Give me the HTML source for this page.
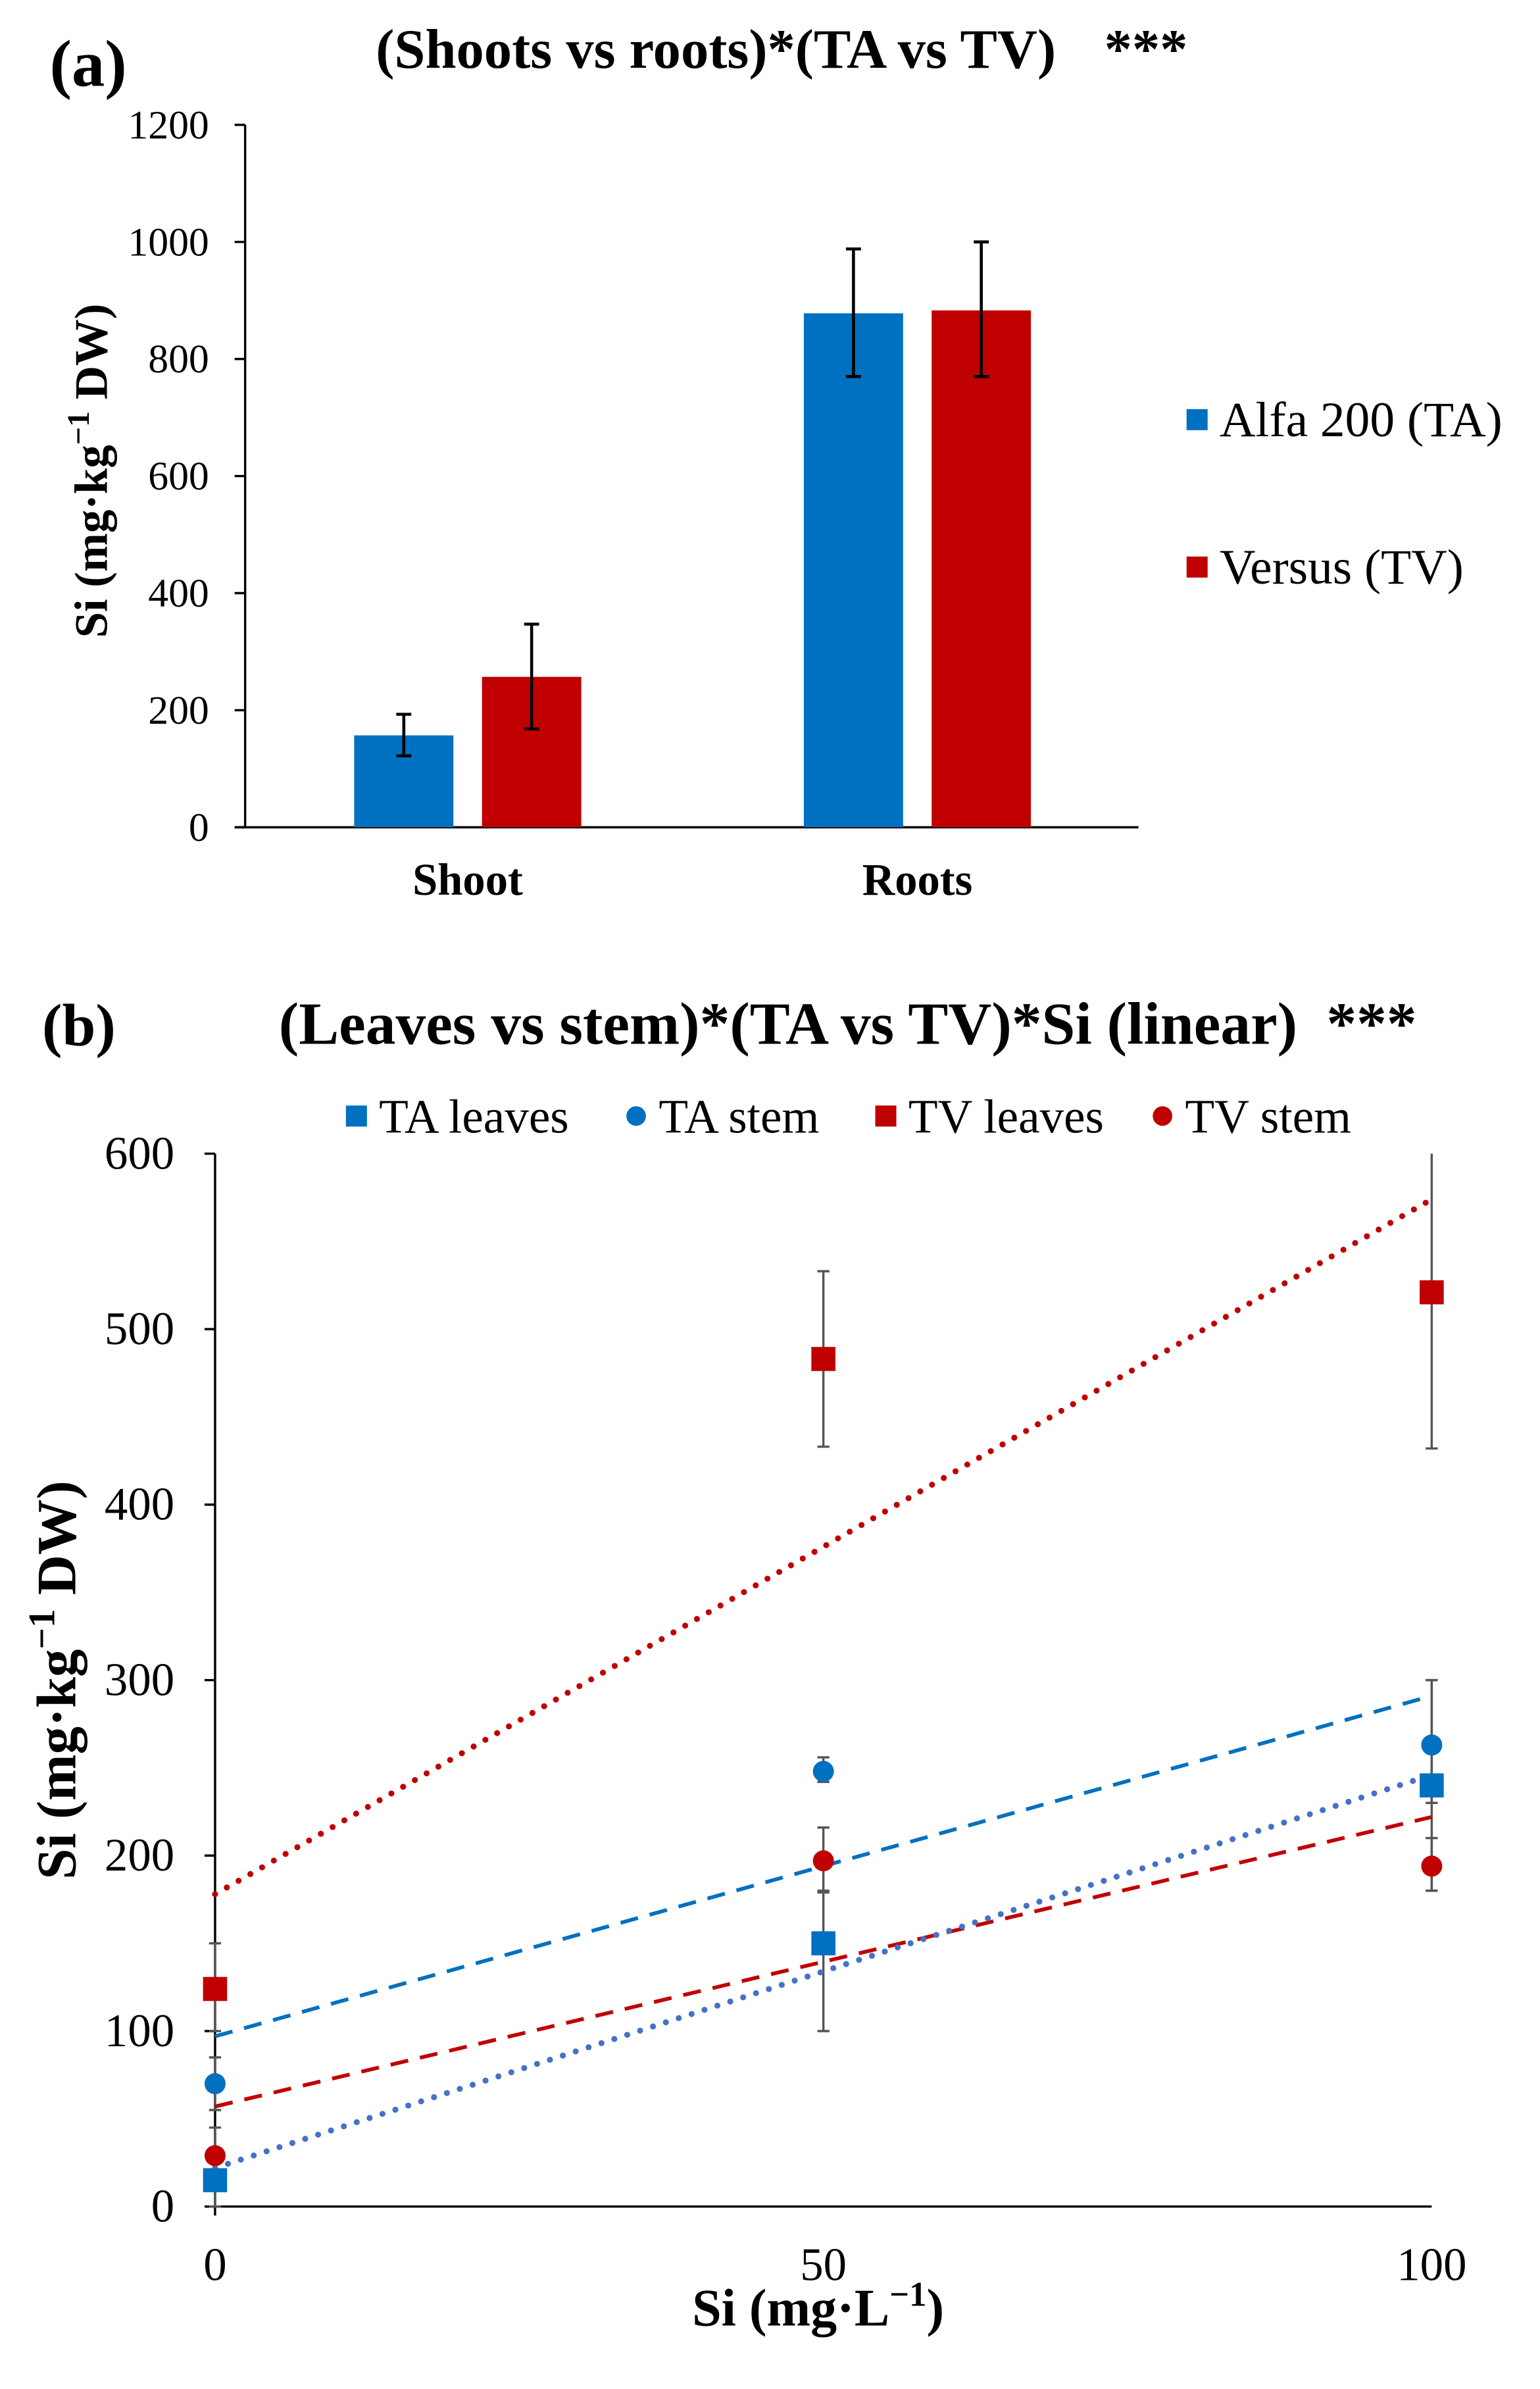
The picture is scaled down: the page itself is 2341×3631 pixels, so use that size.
<!DOCTYPE html>
<html><head><meta charset="utf-8"><style>
html,body{margin:0;padding:0;background:#fff;}
svg{display:block;font-family:"Liberation Serif",serif;}
</style></head><body>
<svg id="fig" width="2341" height="3631" viewBox="0 0 1024 1588.3" xmlns="http://www.w3.org/2000/svg">
<g id="chartA"></g>
<g id="chartB"></g>
</svg>
<script>
// ---- Chart A data ----
const aCategories = ["Shoot", "Roots"];
const aSeriesNames = ["Alfa 200 (TA)", "Versus (TV)"];
const aTA = [157, 878];
const aTV = [257, 883];
const aTAerrLo = [122, 770];
const aTAerrHi = [193, 988];
const aTVerrLo = [168, 770];
const aTVerrHi = [347, 1000];
const aTicks = [0, 200, 400, 600, 800, 1000, 1200];

// ---- Chart B data ----
const bXTicks = [0, 50, 100];
const bYTicks = [0, 100, 200, 300, 400, 500, 600];
const bX = [0, 50, 100];
const taLeaves = [15, 150, 240];
const taStem = [70, 248, 263];
const tvLeaves = [124, 483, 521];
const tvStem = [29, 197, 194];
const taLeavesErrLo = [0, 100, 180];
const taLeavesErrHi = [30, 180, 300];
const taStemErrLo = [55, 242, 230];
const taStemErrHi = [85, 256, 300];
const tvLeavesErrLo = [100, 433, 432];
const tvLeavesErrHi = [150, 533, 610];
const tvStemErrLo = [10, 179, 180];
const tvStemErrHi = [45, 216, 210];
// trendline fitted values at x=0 and x=100
const taLeavesTrend = [22, 246];
const taStemTrend = [97, 291];
const tvLeavesTrend = [178, 574];
const tvStemTrend = [57, 222];

const NS = "http://www.w3.org/2000/svg";
function mk(parent, tag, attrs, text){
  const e = document.createElementNS(NS, tag);
  for (const k in attrs) e.setAttribute(k, attrs[k]);
  if (text !== undefined) e.textContent = text;
  parent.appendChild(e);
  return e;
}
const BLUE = "#0070C0", RED = "#C00000";

// ===== Chart A =====
(function(){
  const g = document.getElementById("chartA");
  const y0 = 550, yTop = 83, xL = 163, xR = 757;
  const ya = v => y0 - v / 1200 * (y0 - yTop);
  const catX = [311, 610];
  const barW = 66, off = 42.5;
  let t;
  t = mk(g, "text", {x: 33, y: 57, "font-size": 44, "font-weight": "bold"}, "(a)");
  
  
  t = mk(g, "text", {x: 476, y: 45, "font-size": 37, "font-weight": "bold", "text-anchor": "middle"}, "(Shoots vs roots)*(TA vs TV)");
  
  
  t = mk(g, "text", {x: 762, y: 45, "font-size": 37, "font-weight": "bold", "text-anchor": "middle"}, "***");
  
  
  let ax = mk(g, "line", {x1: xL, y1: yTop, x2: xL, y2: y0, stroke: "#000", "stroke-width": 1.5});
  
  
  ax = mk(g, "line", {x1: xL - 7, y1: y0, x2: xR, y2: y0, stroke: "#000", "stroke-width": 1.5});
  
  
  aTicks.forEach(v => {
    const tk = mk(g, "line", {x1: xL - 7, y1: ya(v), x2: xL, y2: ya(v), stroke: "#000", "stroke-width": 1.5});
    
    
    const lb = mk(g, "text", {x: 139, y: ya(v) + 9, "font-size": 27, "text-anchor": "end"}, String(v));
    
    
  });
  t = mk(g, "text", {x: 0, y: 0, "font-size": 31, "font-weight": "bold", "text-anchor": "middle", transform: "translate(71,313) rotate(-90)"});
  
  
  t.innerHTML = 'Si (mg·kg<tspan dy="-12" font-size="21">−1</tspan><tspan dy="12"> DW)</tspan>';
  const series = [[aTA, aTAerrLo, aTAerrHi, BLUE, -off, 'ta'], [aTV, aTVerrLo, aTVerrHi, RED, off, 'tv']];
  aCategories.forEach((c, i) => {
    series.forEach(s => {
      const cx = catX[i] + s[4];
      const b = mk(g, "rect", {x: cx - barW/2, y: ya(s[0][i]), width: barW, height: y0 - ya(s[0][i]), fill: s[3]});
      
      
      const e = mk(g, "path", {d: `M${cx},${ya(s[1][i])}V${ya(s[2][i])}M${cx-5},${ya(s[1][i])}h10M${cx-5},${ya(s[2][i])}h10`, stroke: "#000", "stroke-width": 2, fill: "none"});
      
      
    });
    const lb = mk(g, "text", {x: catX[i], y: 595, "font-size": 30, "font-weight": "bold", "text-anchor": "middle"}, c);
    
    
  });
  [[BLUE, 279], [RED, 377]].forEach((l, i) => {
    const r = mk(g, "rect", {x: 789, y: l[1] - 7, width: 14, height: 14, fill: l[0]});
    
    
    const tx = mk(g, "text", {x: 811, y: l[1] + 11, "font-size": 33}, aSeriesNames[i]);
    
    
  });
})();

// ===== Chart B =====
(function(){
  const g = document.getElementById("chartB");
  const y0 = 1467, yTop = 767, xL = 143, xR = 952;
  const yb = v => y0 - v / 600 * (y0 - yTop);
  const xb = v => xL + v / 100 * (xR - xL);
  let t;
  t = mk(g, "text", {x: 28, y: 695, "font-size": 40, "font-weight": "bold"}, "(b)");
  
  
  t = mk(g, "text", {x: 524, y: 694, "font-size": 40, "font-weight": "bold", "text-anchor": "middle"}, "(Leaves vs stem)*(TA vs TV)*Si (linear)");
  
  
  t = mk(g, "text", {x: 912, y: 694, "font-size": 40, "font-weight": "bold", "text-anchor": "middle"}, "***");
  
  
  const leg = [["TA leaves", BLUE, "sq", 237], ["TA stem", BLUE, "ci", 423], ["TV leaves", RED, "sq", 589], ["TV stem", RED, "ci", 773]];
  leg.forEach(l => {
    let m;
    if (l[2] === "sq") m = mk(g, "rect", {x: l[3] - 7, y: 735, width: 14, height: 14, fill: l[1]});
    else m = mk(g, "circle", {cx: l[3], cy: 742, r: 6.5, fill: l[1]});
    
    
    const tx = mk(g, "text", {x: l[3] + 15, y: 753, "font-size": 32}, l[0]);
    
    
  });
  let ax = mk(g, "line", {x1: xL, y1: yTop, x2: xL, y2: y0 + 6, stroke: "#000", "stroke-width": 1.5});
  
  
  ax = mk(g, "line", {x1: xL - 6, y1: y0, x2: xR, y2: y0, stroke: "#000", "stroke-width": 1.5});
  
  
  bYTicks.forEach(v => {
    const tk = mk(g, "line", {x1: xL - 7, y1: yb(v), x2: xL, y2: yb(v), stroke: "#000", "stroke-width": 1.5});
    
    
    const lb = mk(g, "text", {x: 116, y: yb(v) + 10, "font-size": 31, "text-anchor": "end"}, String(v));
    
    
  });
  bXTicks.forEach(v => {
    const lb = mk(g, "text", {x: xb(v), y: 1516, "font-size": 31, "text-anchor": "middle"}, String(v));
    
    
  });
  t = mk(g, "text", {x: 544, y: 1546, "font-size": 35, "font-weight": "bold", "text-anchor": "middle"});
  
  
  t.innerHTML = 'Si (mg·L<tspan dy="-13" font-size="23">−1</tspan><tspan dy="13">)</tspan>';
  t = mk(g, "text", {x: 0, y: 0, "font-size": 37, "font-weight": "bold", "text-anchor": "middle", transform: "translate(50,1117) rotate(-90)"});
  
  
  t.innerHTML = 'Si (mg·kg<tspan dy="-14" font-size="25">−1</tspan><tspan dy="14"> DW)</tspan>';
  const errs = [[taLeavesErrLo, taLeavesErrHi], [taStemErrLo, taStemErrHi], [tvLeavesErrLo, tvLeavesErrHi], [tvStemErrLo, tvStemErrHi]];
  errs.forEach(e => {
    bX.forEach((x, i) => {
      const hi = Math.min(e[1][i], 600);
      const p = mk(g, "path", {d: `M${xb(x)},${yb(e[0][i])}V${yb(hi)}M${xb(x)-4},${yb(e[0][i])}h8` + (e[1][i] <= 600 ? `M${xb(x)-4},${yb(hi)}h8` : ''), stroke: "#555", "stroke-width": 1.5, fill: "none"});
      
      
    });
  });
  const trends = [[tvLeavesTrend, RED, "0 9", 4, 'trend-tv-leaves'], [taStemTrend, BLUE, "12 8", 2.5, 'trend-ta-stem'], [tvStemTrend, RED, "12 8", 2.5, 'trend-tv-stem'], [taLeavesTrend, "#4472C4", "0 9", 4, 'trend-ta-leaves']];
  trends.forEach(tr => {
    const l = mk(g, "line", {x1: xb(0), y1: yb(tr[0][0]), x2: xb(100), y2: yb(tr[0][1]), stroke: tr[1], "stroke-width": tr[3], "stroke-dasharray": tr[2], "stroke-linecap": tr[2].startsWith("0") ? "round" : "butt"});
    
    
  });
  const ser = [[tvLeaves, RED, "sq", 'tv-leaves'], [taStem, BLUE, "ci", 'ta-stem'], [tvStem, RED, "ci", 'tv-stem'], [taLeaves, BLUE, "sq", 'ta-leaves']];
  ser.forEach(s => {
    bX.forEach((x, i) => {
      let m;
      if (s[2] === "sq") m = mk(g, "rect", {x: xb(x) - 8, y: yb(s[0][i]) - 8, width: 16, height: 16, fill: s[1]});
      else m = mk(g, "circle", {cx: xb(x), cy: yb(s[0][i]), r: 7, fill: s[1]});
      
      
    });
  });
})();
</script>
</body></html>
